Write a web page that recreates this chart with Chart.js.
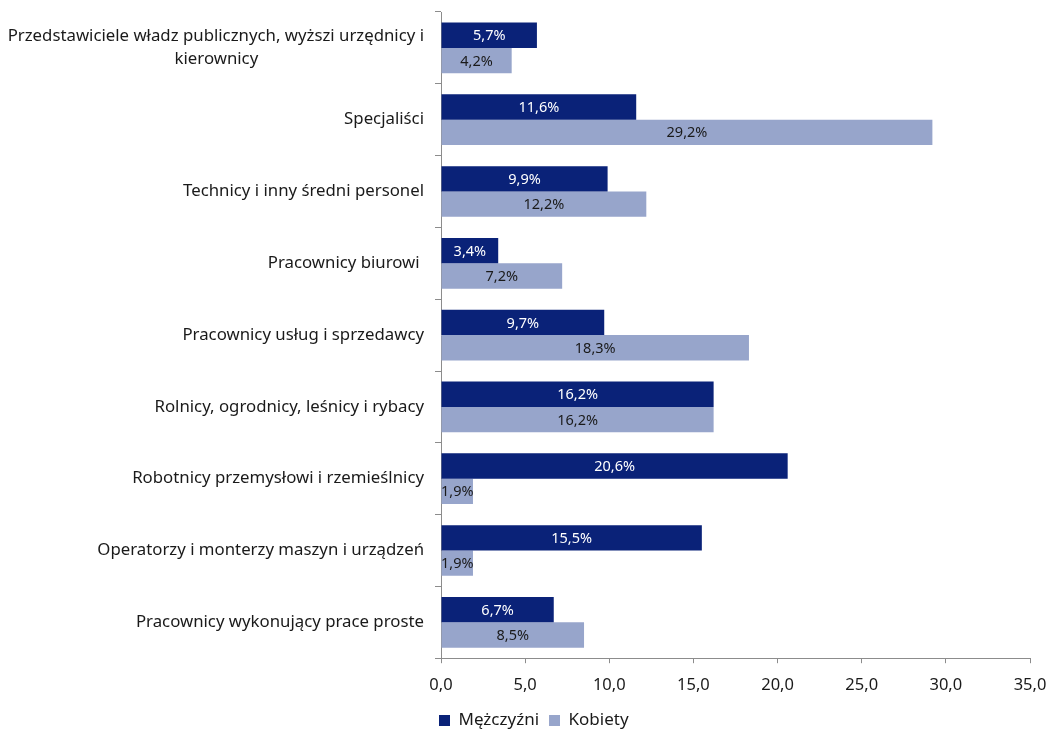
<!DOCTYPE html>
<html>
<head>
<meta charset="utf-8">
<script src="https://cdn.jsdelivr.net/npm/chart.js@4"></script>
<style>
  html, body { margin: 0; padding: 0; background: #fff; }
  #wrap { width: 1046px; height: 731px; }
</style>
</head>
<body>
<div id="wrap"><canvas id="chart"></canvas></div>
<script>
// Occupation groups (top to bottom)
const categories = [
    ['Przedstawiciele władz publicznych, wyższi urzędnicy i', 'kierownicy'],
    'Specjaliści',
    'Technicy i inny średni personel',
    'Pracownicy biurowi ',
    'Pracownicy usług i sprzedawcy',
    'Rolnicy, ogrodnicy, leśnicy i rybacy',
    'Robotnicy przemysłowi i rzemieślnicy',
    'Operatorzy i monterzy maszyn i urządzeń',
    'Pracownicy wykonujący prace proste'
];
const menValues = [5.7, 11.6, 9.9, 3.4, 9.7, 16.2, 20.6, 15.5, 6.7];
const womenValues = [4.2, 29.2, 12.2, 7.2, 18.3, 16.2, 1.9, 1.9, 8.5];
const seriesNames = ['Mężczyźni', 'Kobiety'];

const FONT = '"Noto Sans", sans-serif';
const LABEL_SIZE = 16.8;
const fmt = v => v.toFixed(1).replace('.', ',');

// center shorter lines of multi-line labels under the longest line
const measureCtx = document.createElement('canvas').getContext('2d');
measureCtx.font = LABEL_SIZE + 'px ' + FONT;
function centerLines(label) {
    if (!Array.isArray(label)) return label;
    const widths = label.map(l => measureCtx.measureText(l).width);
    const maxW = Math.max(...widths);
    const sp = measureCtx.measureText('\u00a0').width;
    return label.map((l, i) => l + '\u00a0'.repeat(Math.round((maxW - widths[i]) / 2 / sp)));
}

// value labels drawn in the middle of each bar
const barLabels = {
    id: 'barLabels',
    afterDatasetsDraw(chart) {
        const ctx = chart.ctx;
        ctx.save();
        ctx.font = '14.5px ' + FONT;
        ctx.textAlign = 'center';
        ctx.textBaseline = 'middle';
        chart.data.datasets.forEach((ds, di) => {
            chart.getDatasetMeta(di).data.forEach((bar, i) => {
                const x = (bar.x + bar.base) / 2;
                ctx.fillStyle = di === 0 ? '#ffffff' : '#1a1a1a';
                ctx.fillText(fmt(ds.data[i]) + '%', x, bar.y + 1);
            });
        });
        ctx.restore();
    }
};

// pull the legend a bit to the left so it starts at the value axis
const legendShift = {
    id: 'legendShift',
    afterLayout(chart) {
        if (chart.legend) chart.legend.left -= 12;
    }
};

new Chart(document.getElementById('chart'), {
    type: 'bar',
    data: {
        labels: categories,
        datasets: [{
            label: seriesNames[0],
            data: menValues,
            backgroundColor: '#0a2278'
        }, {
            label: seriesNames[1],
            data: womenValues,
            backgroundColor: '#97a5cb'
        }]
    },
    options: {
        indexAxis: 'y',
        responsive: true,
        maintainAspectRatio: false,
        animation: false,
        layout: { padding: { top: 0, left: 0, right: 0, bottom: -8 } },
        datasets: { bar: { categoryPercentage: 0.706, barPercentage: 1.0 } },
        scales: {
            x: {
                min: 0,
                max: 35,
                ticks: {
                    stepSize: 5,
                    color: '#1a1a1a',
                    font: { family: FONT, size: 16.5 },
                    padding: 12,
                    callback: v => fmt(v)
                },
                grid: { drawOnChartArea: false, color: '#8c8c8c', tickLength: 5 },
                border: { color: '#8c8c8c' },
                afterFit: s => { s.height -= 5; s.paddingRight = 16; }
            },
            y: {
                ticks: {
                    color: '#1a1a1a',
                    font: { family: FONT, size: LABEL_SIZE, lineHeight: 1.35 },
                    padding: 11,
                    callback: function(v) { return centerLines(this.getLabelForValue(v)); }
                },
                grid: { drawOnChartArea: false, color: '#8c8c8c', tickLength: 6 },
                border: { color: '#8c8c8c' },
                afterFit: s => { s.width = 441; s.paddingTop = 12; s.paddingBottom = 0; }
            }
        },
        plugins: {
            legend: {
                position: 'bottom',
                align: 'start',
                fullSize: false,
                labels: {
                    color: '#1a1a1a',
                    font: { family: FONT, size: 17 },
                    boxWidth: 11,
                    boxHeight: 11,
                    padding: 10
                }
            },
            tooltip: { enabled: false }
        }
    },
    plugins: [barLabels, legendShift]
});
</script>
</body>
</html>
